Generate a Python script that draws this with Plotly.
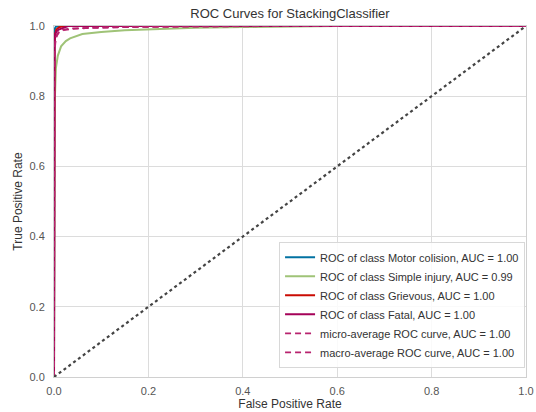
import plotly.graph_objects as go

# ---- data ----
motor_fpr = [0.0, 0.0, 0.0005, 0.001, 0.002, 0.004, 0.008, 1.0]
motor_tpr = [0.0, 0.90, 0.965, 0.985, 0.993, 0.998, 1.0, 1.0]

simple_fpr = [0.0, 0.0, 0.001, 0.002, 0.004, 0.008, 0.015, 0.025, 0.034, 0.06, 0.1, 0.15, 0.2, 0.3, 0.4, 0.5, 0.6, 1.0]
simple_tpr = [0.0, 0.45, 0.70, 0.80, 0.88, 0.915, 0.942, 0.957, 0.965, 0.977, 0.983, 0.988, 0.991, 0.995, 0.997, 0.999, 1.0, 1.0]

griev_fpr = [0.0, 0.0, 0.001, 0.002, 0.005, 0.01, 0.02, 1.0]
griev_tpr = [0.0, 0.86, 0.95, 0.975, 0.99, 0.996, 1.0, 1.0]

fatal_fpr = [0.0, 0.0, 0.001, 0.002, 0.005, 0.01, 0.02, 0.03, 1.0]
fatal_tpr = [0.0, 0.80, 0.94, 0.975, 0.984, 0.99, 0.996, 1.0, 1.0]

micro_fpr = [0.0, 0.0, 0.001, 0.003, 0.006, 0.01, 0.02, 0.04, 0.08, 0.15, 0.3, 0.5, 1.0]
micro_tpr = [0.0, 0.80, 0.93, 0.96, 0.975, 0.983, 0.99, 0.993, 0.995, 0.997, 0.999, 1.0, 1.0]

macro_fpr = [0.0, 0.0, 0.001, 0.003, 0.006, 0.01, 0.02, 0.04, 0.08, 0.15, 0.3, 0.5, 1.0]
macro_tpr = [0.0, 0.78, 0.92, 0.955, 0.972, 0.981, 0.988, 0.992, 0.995, 0.997, 0.999, 1.0, 1.0]

diag = [0.0, 1.0]

labels = [
    "ROC of class Motor colision, AUC = 1.00",
    "ROC of class Simple injury, AUC = 0.99",
    "ROC of class Grievous, AUC = 1.00",
    "ROC of class Fatal, AUC = 1.00",
    "micro-average ROC curve, AUC = 1.00",
    "macro-average ROC curve, AUC = 1.00",
]
tick_vals = [0.0, 0.2, 0.4, 0.6, 0.8, 1.0]
tick_text = ["0.0", "0.2", "0.4", "0.6", "0.8", "1.0"]

colors = ["#0272a2", "#9fc377", "#ca0b03", "#a50258", "#b8226e", "#b8226e"]

fig = go.Figure()
series = [
    (motor_fpr, motor_tpr, "solid"),
    (simple_fpr, simple_tpr, "solid"),
    (griev_fpr, griev_tpr, "solid"),
    (fatal_fpr, fatal_tpr, "solid"),
    (micro_fpr, micro_tpr, "dash"),
    (macro_fpr, macro_tpr, "dash"),
]
for (fx, ty, dash), lab, col in zip(series, labels, colors):
    fig.add_trace(go.Scatter(
        x=fx, y=ty, mode="lines", name=lab,
        line=dict(color=col, width=2 if dash == "solid" else 1.8,
                  dash="solid" if dash == "solid" else "6px,4px"),
    ))

fig.add_trace(go.Scatter(
    x=diag, y=diag, mode="lines", showlegend=False,
    line=dict(color="#444444", width=2.2, dash="dot"),
))

axis_common = dict(
    range=[0, 1], tickvals=tick_vals, ticktext=tick_text,
    showgrid=True, gridcolor="#dcdcdc", gridwidth=1,
    zeroline=False, showline=True, linecolor="#d0d0d0", linewidth=1, mirror=True,
    ticks="", tickfont=dict(size=11, color="#555555"), automargin=False,
)

fig.update_layout(
    width=536, height=412,
    margin=dict(l=54, r=10, t=26, b=35),
    paper_bgcolor="white", plot_bgcolor="white",
    font=dict(family="Liberation Sans, Arial, sans-serif", color="#333333"),
    title=dict(text="ROC Curves for StackingClassifier", x=290 / 536, xanchor="center",
               y=1 - 13 / 412, yanchor="middle", yref="container",
               font=dict(size=13, color="#333333")),
    xaxis=dict(title=dict(text="False Positive Rate", font=dict(size=12, color="#333333"), standoff=3),
               ticklabelstandoff=4, **axis_common),
    yaxis=dict(title=dict(text="True Positive Rate", font=dict(size=12, color="#333333"), standoff=4),
               ticklabelstandoff=6, **axis_common),
    legend=dict(x=0.998, y=0.026, xanchor="right", yanchor="bottom",
                bgcolor="rgba(255,255,255,0.85)", bordercolor="#d8d8d8", borderwidth=1,
                font=dict(size=11, color="#333333"), tracegroupgap=0),
    showlegend=True,
)

fig.write_html("out.html", config={"displayModeBar": False},
               post_script="document.body.style.margin='0';document.body.style.padding='0';")
